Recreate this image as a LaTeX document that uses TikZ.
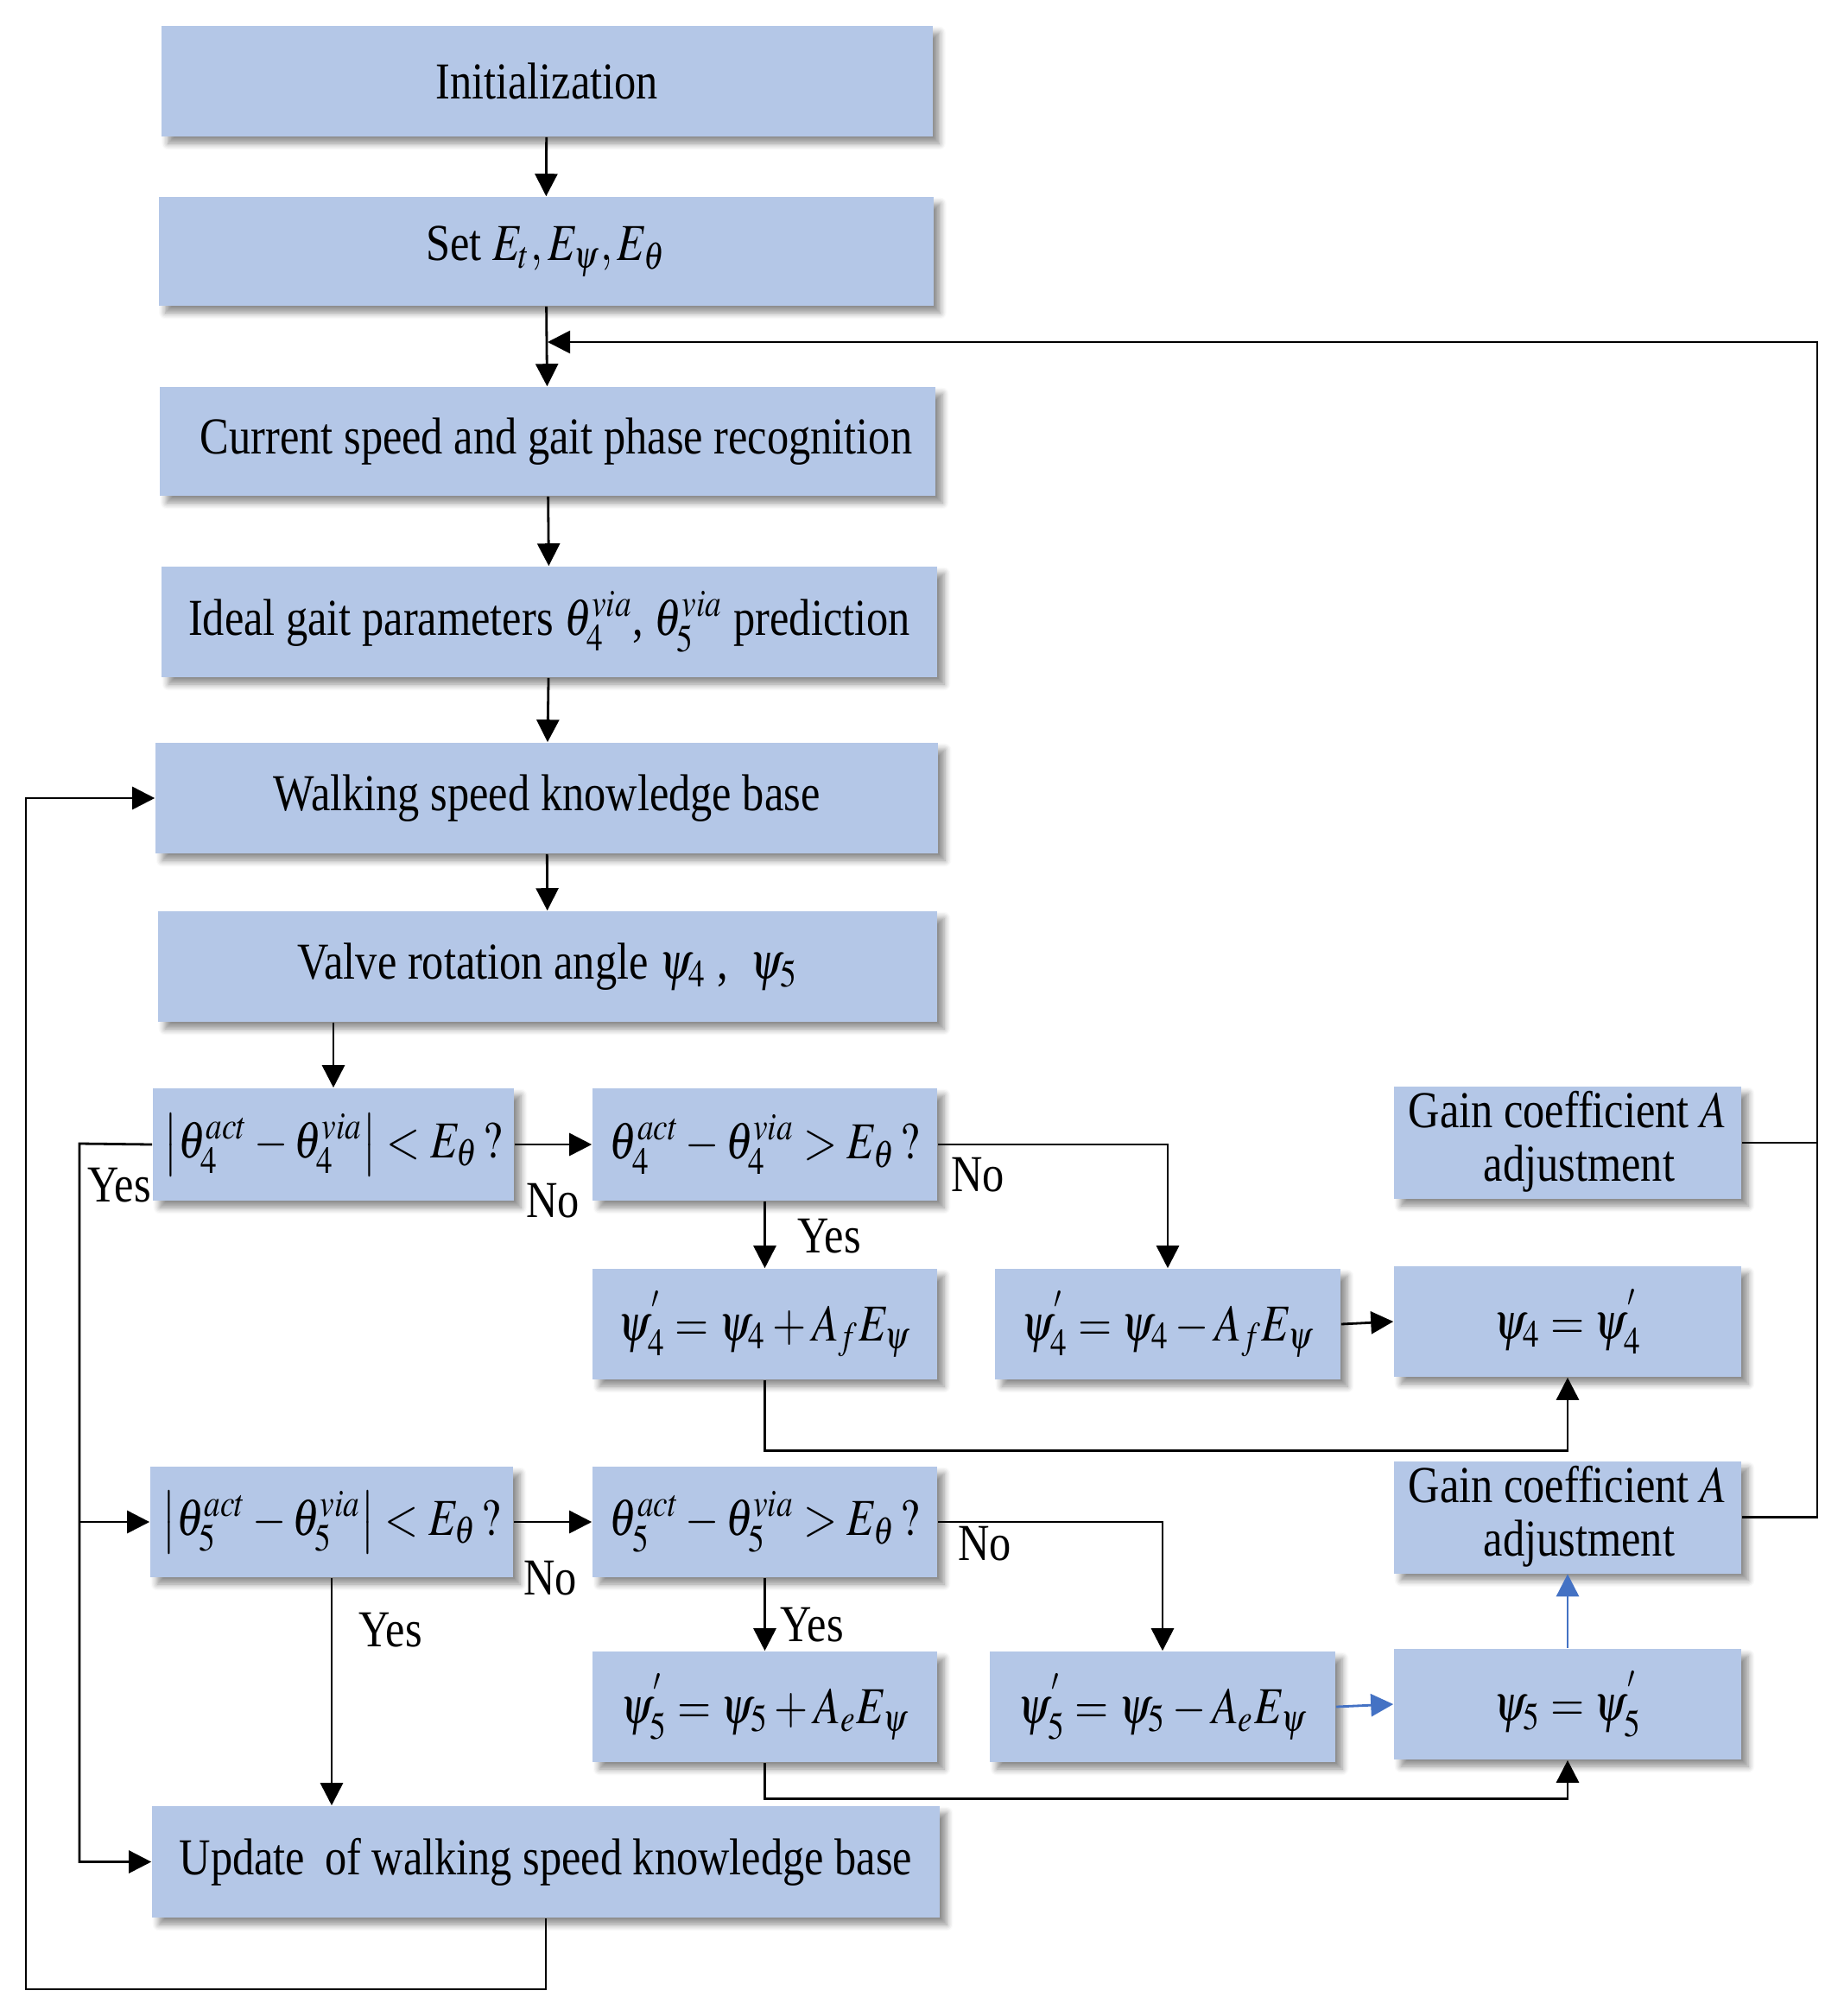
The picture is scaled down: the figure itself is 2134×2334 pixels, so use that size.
\documentclass[tikz,border=0pt]{standalone}
\usepackage{mathptmx}
\usepackage{fontspec}
\setmainfont{Liberation Serif}
\usepackage{graphicx}
\usetikzlibrary{arrows.meta,shadows.blur}
\definecolor{boxfill}{HTML}{B4C7E7}
\definecolor{blueline}{HTML}{4472C4}
\newcommand\sx[1]{\scalebox{0.84}[1]{#1}}
\begin{document}
\begin{tikzpicture}[x=0.25pt,y=-0.25pt,
 box/.style={fill=boxfill, draw=none, inner sep=0pt, font=\fontsize{15}{17}\selectfont,
   blur shadow={shadow xshift=2pt, shadow yshift=-2pt, shadow blur steps=6, shadow opacity=45}},
 arr/.style={-{Triangle[length=6.5pt,width=6.5pt]}, line width=0.7pt},
 barr/.style={arr, draw=blueline},
 ln/.style={line width=0.7pt},
 lbl/.style={font=\fontsize{15}{17}\selectfont, inner sep=0pt}]
\useasboundingbox (0,0) rectangle (2134,2334);

\node[box, minimum width=223.25pt, minimum height=32pt] (init) at (633,94) {\sx{Initialization}};
\node[box, minimum width=224.25pt, minimum height=31.5pt] (set) at (632,291) {\sx{Set $E_t,E_\psi,E_\theta$}};
\node[box, minimum width=224.5pt, minimum height=31.5pt] (cur) at (634,511) {\sx{\hspace{6pt}Current speed and gait phase recognition}};
\node[box, minimum width=224.5pt, minimum height=32pt] (ideal) at (636,720) {\sx{Ideal gait parameters $\theta_4^{via}$, $\theta_5^{via}$ prediction}};
\node[box, minimum width=226.5pt, minimum height=32pt] (wkb) at (633,924) {\sx{Walking speed knowledge base}};
\node[box, minimum width=225.5pt, minimum height=32pt] (valve) at (634,1119) {\sx{Valve rotation angle $\psi_4$ ,\ \ $\psi_5$}};

\node[box, minimum width=104.5pt, minimum height=32.5pt] (d1) at (386,1325) {\sx{$\left|\theta_4^{act}-\theta_4^{via}\right|<E_\theta\,?$}};
\node[box, minimum width=99.75pt, minimum height=32.5pt] (d2) at (885.5,1325) {\sx{$\theta_4^{act}-\theta_4^{via}>E_\theta\,?$}};
\node[box, minimum width=100.5pt, minimum height=32pt] (g1) at (1815,1323) {\sx{\begin{tabular}{@{}c@{}}Gain coefficient $A$\\[-1.5pt] \hspace{8pt}adjustment\end{tabular}}};

\node[box, minimum width=99.75pt, minimum height=32pt] (p4a) at (885.5,1533) {\sx{$\psi_4^{'}=\psi_4+A_fE_\psi$}};
\node[box, minimum width=100pt, minimum height=32pt] (p4b) at (1352,1533) {\sx{$\psi_4^{'}=\psi_4-A_fE_\psi$}};
\node[box, minimum width=100.5pt, minimum height=32pt] (p4c) at (1815,1530) {\sx{$\psi_4=\psi_4^{'}$}};

\node[box, minimum width=105pt, minimum height=32pt] (d3) at (384,1762) {\sx{$\left|\theta_5^{act}-\theta_5^{via}\right|<E_\theta\,?$}};
\node[box, minimum width=99.75pt, minimum height=32pt] (d4) at (885.5,1762) {\sx{$\theta_5^{act}-\theta_5^{via}>E_\theta\,?$}};
\node[box, minimum width=100.5pt, minimum height=31.75pt] (g2) at (1815,1756.5) {\sx{\begin{tabular}{@{}c@{}}Gain coefficient $A$\\[-1.5pt] \hspace{8pt}adjustment\end{tabular}}};

\node[box, minimum width=99.75pt, minimum height=32pt] (p5a) at (885.5,1976) {\sx{$\psi_5^{'}=\psi_5+A_eE_\psi$}};
\node[box, minimum width=100pt, minimum height=32pt] (p5b) at (1346,1976) {\sx{$\psi_5^{'}=\psi_5-A_eE_\psi$}};
\node[box, minimum width=100.5pt, minimum height=32pt] (p5c) at (1815,1973) {\sx{$\psi_5=\psi_5^{'}$}};

\node[box, minimum width=228pt, minimum height=32.25pt] (upd) at (632,2155.5) {\sx{Update\hspace{3pt} of walking speed knowledge base}};

% coordinates
\coordinate (j) at (634,396);
\coordinate (rr) at (2104,396);
\coordinate (yl) at (92,1324);
\coordinate (bl) at (30,2303);

% main column
\draw[arr] (init) -- (set);
\draw[arr] (set) -- (cur);
\draw[arr] (cur) -- (ideal);
\draw[arr] (ideal) -- (wkb);
\draw[arr] (wkb) -- (valve);
\draw[arr] (valve.south -| d1.north) -- (d1.north);

% feedback from gain boxes
\draw[arr] (g1.east) -| (rr) -- (j);
\draw[ln] (g2.east) -| (rr);

% row 4
\draw[arr] (d1.east) -- (d2.west);
\draw[arr] (d2.south) -- (p4a.north);
\draw[arr] (d2.east) -| (p4b.north);
\draw[arr] (p4b.east) -- (p4c.west);
\draw[arr] (p4a.south) -- ++(0,82) -| (p4c.south);

% yes branch left
\draw[arr] (d1.west) -- (yl) |- (upd.west);
\draw[arr] (yl |- d3.west) -- (d3.west);

% row 5
\draw[arr] (d3.east) -- (d4.west);
\draw[arr] (d3.south) -- (d3.south |- upd.north);
\draw[arr] (d4.south) -- (p5a.north);
\draw[arr] (d4.east) -| (p5b.north);
\draw[barr] (p5b.east) -- (p5c.west);
\draw[barr] (p5c.north) -- (g2.south);
\draw[arr] (p5a.south) -- ++(0,42) -| (p5c.south);

% update loop
\draw[arr] (upd.south) |- (bl) |- (wkb.west);

% labels
\node[lbl] (yes1) at (138,1372) {\sx{Yes}};
\node[lbl] (no1) at (640,1390) {\sx{No}};
\node[lbl] (yes2) at (960,1431) {\sx{Yes}};
\node[lbl] (no2) at (1132,1360) {\sx{No}};
\node[lbl] (no3) at (637,1827) {\sx{No}};
\node[lbl] (yes3) at (452,1887) {\sx{Yes}};
\node[lbl] (yes4) at (940,1881) {\sx{Yes}};
\node[lbl] (no4) at (1140,1787) {\sx{No}};
\end{tikzpicture}
\end{document}
